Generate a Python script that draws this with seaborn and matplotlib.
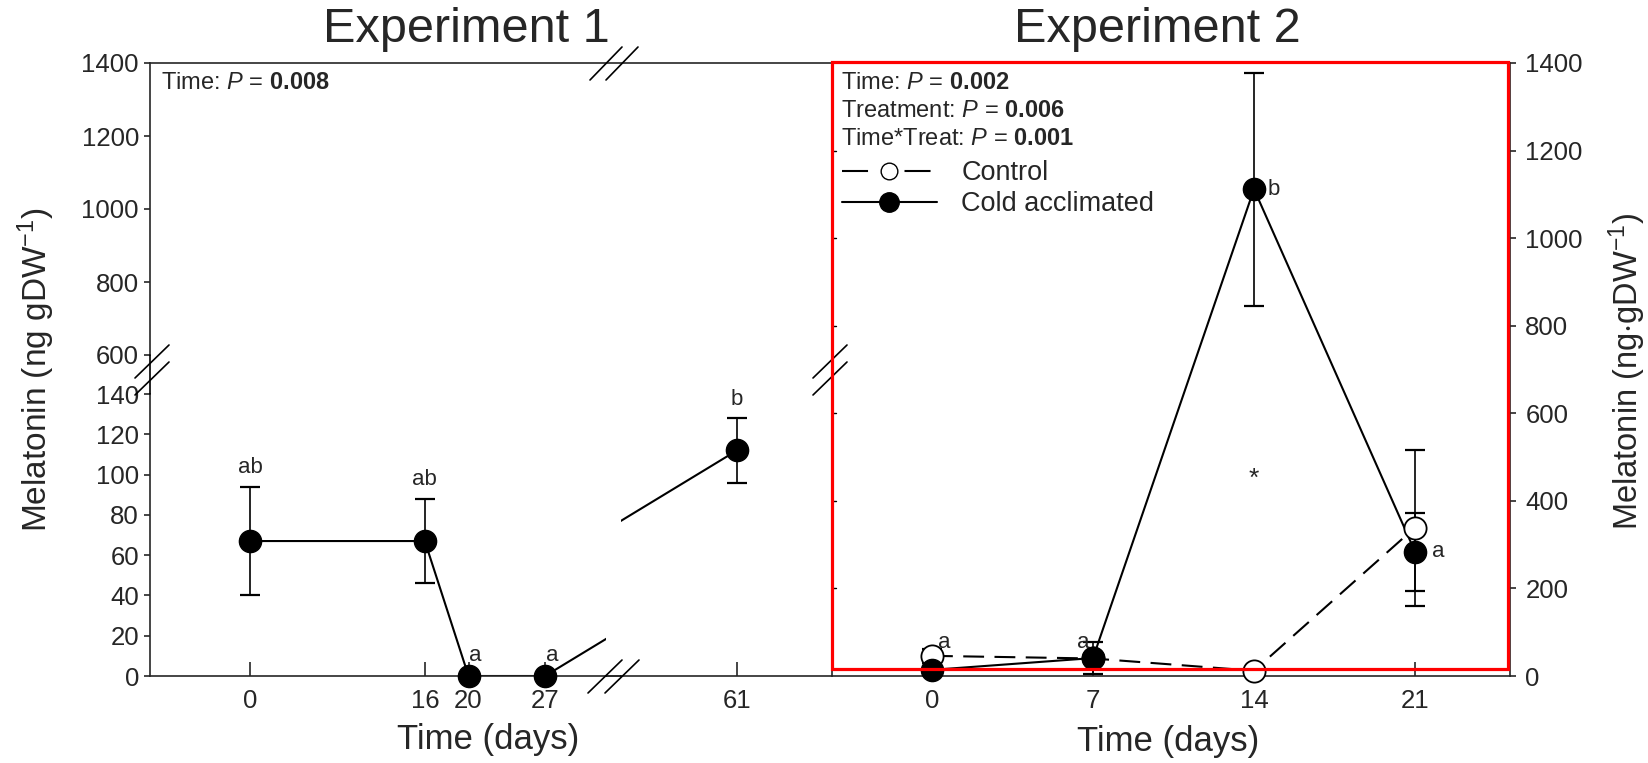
import numpy as np
import pandas as pd
import matplotlib
matplotlib.use("Agg")
import matplotlib.pyplot as plt
import seaborn as sns
from matplotlib.lines import Line2D
from matplotlib.patches import Rectangle

# ---------------- data ----------------
exp1_days = [0, 16, 20, 27, 61]
exp1_mean = [67, 67, 0, 0, 112]
exp1_err = [27, 21, 0, 0, 16]
exp1_letters = ["ab", "ab", "a", "a", "b"]

exp2_days = [0, 7, 14, 21]
ctrl_mean = [46, 40, 12, 339]
ctrl_err = [16, 8, 0, 178]
cold_mean = [14, 41, 1112, 284]
cold_err = [5, 36, 266, 89]
cold_letters = ["a", "a", "b", "a"]

exp1_low_ticks = [0, 20, 40, 60, 80, 100, 120, 140]
exp1_high_ticks = [600, 800, 1000, 1200, 1400]
exp2_ticks = [0, 200, 400, 600, 800, 1000, 1200, 1400]

# ---------------- style ----------------
sns.set_style("ticks")
plt.rcParams["font.family"] = ["Liberation Sans", "DejaVu Sans"]
plt.rcParams["mathtext.fontset"] = "custom"
plt.rcParams["mathtext.rm"] = "Liberation Sans"
plt.rcParams["mathtext.it"] = "Liberation Sans:italic"
plt.rcParams["mathtext.bf"] = "Liberation Sans:bold"
plt.rcParams["axes.linewidth"] = 1.2

W, H = 1649, 763
fig = plt.figure(figsize=(W / 100, H / 100), dpi=100)
fig.patch.set_facecolor("white")


def rect(x0, y0, x1, y1):
    return [x0 / W, 1 - y1 / H, (x1 - x0) / W, (y1 - y0) / H]


def fline(pts, **kw):
    xs = [p[0] / W for p in pts]
    ys = [1 - p[1] / H for p in pts]
    fig.add_artist(Line2D(xs, ys, color="black", lw=1.2, **kw))


px_day1 = 10.93
A1 = fig.add_axes(rect(150, 394, 606, 676))
A2 = fig.add_axes(rect(621, 394, 832, 676))
A3 = fig.add_axes(rect(150, 63, 832, 355))
B = fig.add_axes(rect(832, 63, 1510, 676))
for ax in (A1, A2, A3, B):
    ax.patch.set_alpha(0)

A1.set_xlim(-100 / px_day1, 27 + 61 / px_day1)
A2.set_xlim(61 - 116 / px_day1, 61 + 95 / px_day1)
for ax in (A1, A2):
    ax.set_ylim(0, 140)
A3.set_ylim(600, 1400)
A3.set_xlim(0, 1)
px_day2 = 23.0
B.set_xlim(-100 / px_day2, 21 + 95 / px_day2)
B.set_ylim(0, 1400)

df1 = pd.DataFrame({"day": exp1_days, "mean": exp1_mean, "err": exp1_err})
df2 = pd.DataFrame({"day": exp2_days, "ctrl": ctrl_mean, "ctrl_err": ctrl_err,
                    "cold": cold_mean, "cold_err": cold_err})

LW = 1.5
MS = 16
CAP = 7
TICK_FS = 18.5
LET_FS = 16

# ---------------- Experiment 1 ----------------
for ax in (A1, A2):
    sns.lineplot(data=df1, x="day", y="mean", ax=ax, color="black", lw=LW,
                 sort=False, legend=False)
    lo, hi = ax.get_xlim()
    sub = df1[(df1["day"] >= lo) & (df1["day"] <= hi)]
    e = sub[sub["err"] > 0]
    ax.errorbar(e["day"], e["mean"], yerr=e["err"], fmt="none", ecolor="black",
                elinewidth=1.2, capsize=CAP, capthick=1.6, zorder=3)
    sns.scatterplot(data=sub, x="day", y="mean", ax=ax, color="black", s=MS ** 2,
                    edgecolor="black", linewidth=1, clip_on=False, zorder=5,
                    legend=False)
    ax.set_xlabel("")
    ax.set_ylabel("")

for d, m, er, lab in zip(exp1_days, exp1_mean, exp1_err, exp1_letters):
    ax = A1 if d < 40 else A2
    if er > 0:
        ax.annotate(lab, (d, m + er), xytext=(0, 6), textcoords="offset points",
                    ha="center", va="bottom", fontsize=LET_FS)
    else:
        ax.annotate(lab, (d, m), xytext=(5, 7), textcoords="offset points",
                    ha="center", va="bottom", fontsize=LET_FS)

# spines / ticks Exp 1
A1.spines[["top", "right"]].set_visible(False)
A2.spines[["top", "right", "left"]].set_visible(False)
A3.spines[["bottom", "right"]].set_visible(False)
A1.set_yticks(exp1_low_ticks)
A3.set_yticks(exp1_high_ticks)
A3.set_xticks([])
A1.set_xticks([0, 16, 20, 27])
A2.set_xticks([61])
A2.set_yticks([])
for ax in (A1, A3):
    ax.tick_params(axis="y", direction="out", length=4, width=1.2, pad=4,
                   labelsize=TICK_FS)
for ax in (A1, A2):
    ax.tick_params(axis="x", direction="in", length=10, width=1.2, pad=9,
                   labelsize=TICK_FS)

A3.text(0.016, 0.932, r"Time: $\mathit{P}$ = $\mathbf{0.008}$", transform=A3.transAxes,
        ha="left", va="center", fontsize=17)

# ---------------- Experiment 2 ----------------
sns.lineplot(data=df2, x="day", y="ctrl", ax=B, color="black", lw=LW,
             linestyle=(0, (10, 5)), legend=False)
sns.lineplot(data=df2, x="day", y="cold", ax=B, color="black", lw=LW, legend=False)
ec = df2[df2["ctrl_err"] > 0]
B.errorbar(ec["day"], ec["ctrl"], yerr=ec["ctrl_err"], fmt="none", ecolor="black",
           elinewidth=1.2, capsize=CAP, capthick=1.6, zorder=3)
ed = df2[df2["cold_err"] > 0]
B.errorbar(ed["day"], ed["cold"], yerr=ed["cold_err"], fmt="none", ecolor="black",
           elinewidth=1.2, capsize=CAP, capthick=1.6, zorder=3)
sns.scatterplot(data=df2, x="day", y="ctrl", ax=B, color="white", s=MS ** 2,
                edgecolor="black", linewidth=1.3, clip_on=False, zorder=5, legend=False)
sns.scatterplot(data=df2, x="day", y="cold", ax=B, color="black", s=MS ** 2,
                edgecolor="black", linewidth=1, clip_on=False, zorder=6, legend=False)
B.set_xlabel("")
B.set_ylabel("")

letter_offsets = [(9, 10), (-7, 10), (14, 0), (17, 0)]
for d, m, lab, off in zip(exp2_days, cold_mean, cold_letters, letter_offsets):
    yref = m if lab == "b" or d == 21 else 45
    B.annotate(lab, (d, yref), xytext=off, textcoords="offset points",
               ha="center", va="center", fontsize=LET_FS)
B.annotate("*", (14, 450), ha="center", va="center", fontsize=19)

B.yaxis.tick_right()
B.set_yticks(exp2_ticks)
B.tick_params(axis="y", which="major", direction="out", length=4, width=1.2, pad=7,
              labelsize=TICK_FS, right=True, left=False)
B.set_xticks(exp2_days)
B.tick_params(axis="x", direction="in", length=10, width=1.2, pad=9,
              labelsize=TICK_FS)
# inner ticks on the left spine of the second panel
for v in exp2_ticks[1:-1]:
    B.plot([0, 0.006], [v, v], transform=B.get_yaxis_transform(), color="black",
           lw=1.0, clip_on=False)

stats = [r"Time: $\mathit{P}$ = $\mathbf{0.002}$",
         r"Treatment: $\mathit{P}$ = $\mathbf{0.006}$",
         r"Time*Treat: $\mathit{P}$ = $\mathbf{0.001}$"]
for i, s in enumerate(stats):
    B.text(0.013, 1 - (83 + 28 * i - 63) / 613, s, transform=B.transAxes,
           ha="left", va="center", fontsize=17)

handles = [Line2D([], [], color="black", lw=LW, linestyle=(0, (12.5, 17.5)),
                  marker="o", markersize=12, markerfacecolor="white",
                  markeredgecolor="black"),
           Line2D([], [], color="black", lw=LW, marker="o", markersize=14,
                  markerfacecolor="black")]
B.legend(handles, ["Control", "Cold acclimated"], loc="upper left",
         bbox_to_anchor=((842 - 832) / 678, (676 - 160) / 613), frameon=False,
         fontsize=19.5, handlelength=3.5, handletextpad=0.9, labelspacing=0.2,
         borderpad=0, borderaxespad=0)

# ---------------- decorations: axis joins, breaks, titles ----------------
fline([(606, 676), (621, 676)])
fline([(150, 355), (150, 394)])
for (x0, y0, x1, y1) in [(588, 693, 622, 660), (605, 693, 639, 660),
                          (590, 80, 622, 47), (606, 80, 638, 47),
                          (135, 378, 169, 345), (135, 395, 169, 362),
                          (813, 378, 847, 345), (813, 395, 847, 362)]:
    fline([(x0, y0), (x1, y1)])

fig.add_artist(Rectangle((832 / W, 1 - 669 / H), (1508 - 832) / W, (669 - 62) / H,
                         fill=False, edgecolor="#ff0000", lw=2.3, zorder=20))

fig.text(466 / W, 1 - 30 / H, "Experiment 1", ha="center", va="center", fontsize=35)
fig.text(1157 / W, 1 - 30 / H, "Experiment 2", ha="center", va="center", fontsize=35)
fig.text(488 / W, 1 - 740 / H, "Time (days)", ha="center", va="center", fontsize=25)
fig.text(1168 / W, 1 - 741 / H, "Time (days)", ha="center", va="center", fontsize=25)
fig.text(36 / W, 1 - 370 / H, r"Melatonin (ng gDW$^{-1}$)", rotation=90,
         ha="center", va="center", fontsize=24)
fig.text(1627 / W, 1 - 371 / H, r"Melatonin (ng$\cdot$gDW$^{-1}$)", rotation=90,
         ha="center", va="center", fontsize=23.5)

fig.savefig("out.png", dpi=100, facecolor="white")
